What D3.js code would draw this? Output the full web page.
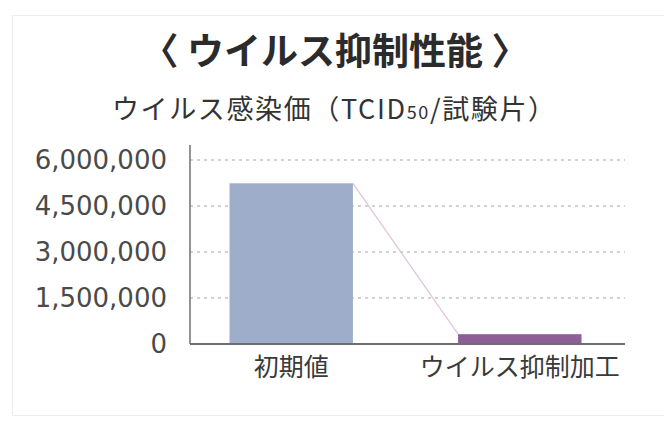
<!DOCTYPE html>
<html>
<head>
<meta charset="utf-8">
<script src="https://cdn.jsdelivr.net/npm/d3@7"></script>
<style>
  body { margin: 0; background: #fff; }
  svg { display: block; }
</style>
</head>
<body>
<svg id="chart" width="664" height="434"></svg>
<script>
// chart data
const categories = ["初期値", "ウイルス抑制加工"];
const values = [5240000, 320000];
const yTicks = [0, 1500000, 3000000, 4500000, 6000000];
const barColors = ["#9dadca", "#8d5f98"];
const titleText = "〈 ウイルス抑制性能 〉";

const svg = d3.select("#chart");
const jp = "'Noto Sans CJK JP', sans-serif";

// faint frame
svg.append("path")
    .attr("d", "M664,15.5 H12.5 V415.5 H664")
    .attr("fill", "none")
    .attr("stroke", "#ececec")
    .attr("stroke-width", 1);

// title + subtitle
svg.append("text")
    .attr("x", 335).attr("y", 65)
    .attr("text-anchor", "middle")
    .attr("font-family", jp)
    .attr("font-weight", "bold")
    .attr("font-size", 37)
    .attr("fill", "#2b2b2b")
    .text(titleText);

const sub = svg.append("text")
    .attr("x", 112).attr("y", 119)
    .attr("textLength", 443)
    .attr("lengthAdjust", "spacing")
    .attr("font-family", jp)
    .attr("font-size", 27)
    .attr("fill", "#333");
sub.append("tspan").text("ウイルス感染価（TCID");
sub.append("tspan").attr("font-size", 18).text("50");
sub.append("tspan").text("/試験片）");

// scales
const xScale = d3.scaleBand()
    .domain(categories)
    .range([229.5, 581.5])
    .paddingInner(0.46);

const yScale = d3.scaleLinear()
    .domain([0, 6000000])
    .range([344, 160]);

const left = 190, right = 625;

// dashed gridlines
svg.append("g")
    .selectAll("line")
    .data(yTicks.filter(d => d > 0))
    .join("line")
    .attr("x1", left).attr("x2", right)
    .attr("y1", d => yScale(d)).attr("y2", d => yScale(d))
    .attr("stroke", "#c4c4c4")
    .attr("stroke-width", 1.3)
    .attr("stroke-dasharray", "3,4");

// y axis
const yAxis = d3.axisLeft(yScale)
    .tickValues(yTicks)
    .tickFormat(d3.format(","))
    .tickSize(0)
    .tickPadding(23);

const yg = svg.append("g")
    .attr("transform", `translate(${left}, 0)`)
    .call(yAxis);
yg.select(".domain").remove();
yg.selectAll("text")
    .attr("font-family", "'DejaVu Sans', sans-serif")
    .attr("font-size", 26)
    .attr("fill", "#4a4a4a");

svg.append("line")
    .attr("x1", left).attr("x2", left)
    .attr("y1", 145).attr("y2", 344)
    .attr("stroke", "#707070")
    .attr("stroke-width", 1.5);

// bars
svg.append("g")
    .selectAll("rect")
    .data(values)
    .join("rect")
    .attr("x", (d, i) => xScale(categories[i]))
    .attr("y", d => yScale(d))
    .attr("width", xScale.bandwidth())
    .attr("height", d => yScale(0) - yScale(d))
    .attr("fill", (d, i) => barColors[i]);

// connector line from top of first bar to top of second bar
const lineGen = d3.line()
    .x(d => d.x)
    .y(d => yScale(d.v));
svg.append("path")
    .datum([
        { x: xScale(categories[0]) + xScale.bandwidth(), v: values[0] },
        { x: xScale(categories[1]), v: values[1] }
    ])
    .attr("d", lineGen)
    .attr("fill", "none")
    .attr("stroke", "#e2c6dc")
    .attr("stroke-width", 1.3);

// baseline
svg.append("line")
    .attr("x1", left).attr("x2", right)
    .attr("y1", yScale(0)).attr("y2", yScale(0))
    .attr("stroke", "#6e6e6e")
    .attr("stroke-width", 2);

// x axis labels
const xAxis = d3.axisBottom(xScale).tickSize(0).tickPadding(14);
const xg = svg.append("g")
    .attr("transform", `translate(0, ${yScale(0)})`)
    .call(xAxis);
xg.select(".domain").remove();
xg.selectAll("text")
    .attr("font-family", jp)
    .attr("font-size", 25)
    .attr("fill", "#3a3a3a");
</script>
</body>
</html>
